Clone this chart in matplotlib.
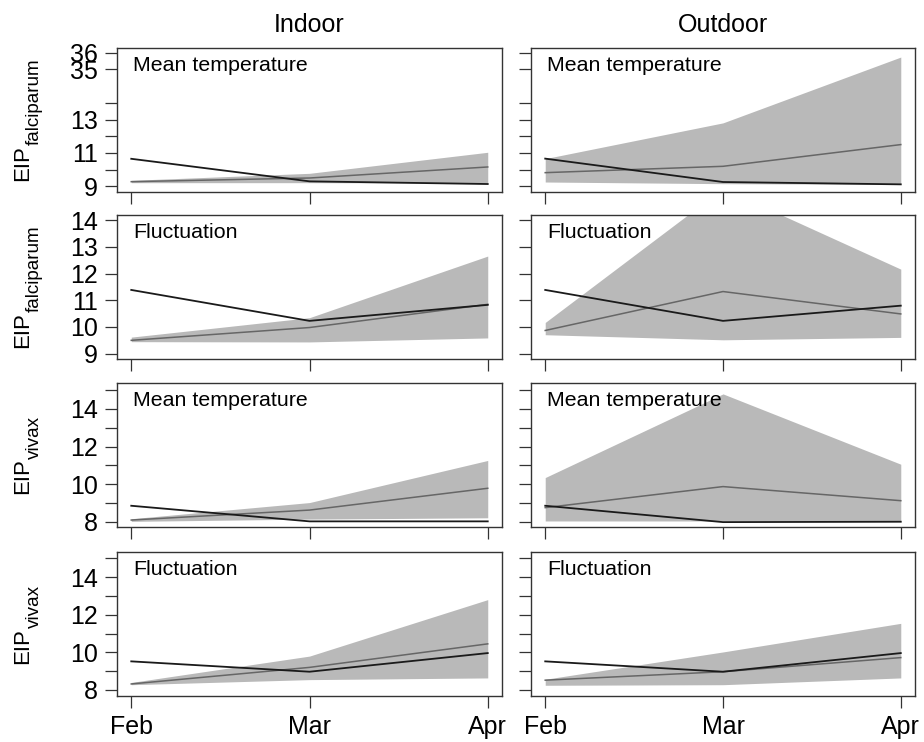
import numpy as np
import matplotlib
matplotlib.use('Agg')
import matplotlib.pyplot as plt

plt.rcParams['font.family'] = ['Liberation Sans', 'DejaVu Sans']

months = ['Feb', 'Mar', 'Apr']
columns = ['Indoor', 'Outdoor']

# P. falciparum, mean temperature
in_fal_mean_obs = [10.65, 9.30, 9.14]
in_fal_mean_mod = [9.28, 9.50, 10.16]
in_fal_mean_lo = [9.22, 9.22, 9.20]
in_fal_mean_hi = [9.36, 9.78, 11.04]
out_fal_mean_obs = [10.66, 9.26, 9.12]
out_fal_mean_mod = [9.82, 10.20, 11.50]
out_fal_mean_lo = [9.26, 9.16, 9.12]
out_fal_mean_hi = [10.66, 12.80, 35.74]

# P. falciparum, fluctuation
in_fal_fluc_obs = [11.39, 10.23, 10.83]
in_fal_fluc_mod = [9.50, 9.98, 10.85]
in_fal_fluc_lo = [9.45, 9.44, 9.59]
in_fal_fluc_hi = [9.62, 10.35, 12.66]
out_fal_fluc_obs = [11.39, 10.23, 10.80]
out_fal_fluc_mod = [9.87, 11.33, 10.49]
out_fal_fluc_lo = [9.71, 9.52, 9.61]
out_fal_fluc_hi = [10.17, 15.20, 12.17]

# P. vivax, mean temperature
in_viv_mean_obs = [8.85, 8.02, 8.02]
in_viv_mean_mod = [8.09, 8.62, 9.78]
in_viv_mean_lo = [8.02, 8.14, 8.21]
in_viv_mean_hi = [8.16, 9.02, 11.26]
out_viv_mean_obs = [8.85, 7.98, 8.00]
out_viv_mean_mod = [8.75, 9.87, 9.12]
out_viv_mean_lo = [8.04, 8.04, 8.04]
out_viv_mean_hi = [10.35, 14.80, 11.06]

# P. vivax, fluctuation
in_viv_fluc_obs = [9.52, 8.97, 9.96]
in_viv_fluc_mod = [8.32, 9.20, 10.45]
in_viv_fluc_lo = [8.28, 8.55, 8.64]
in_viv_fluc_hi = [8.40, 9.80, 12.80]
out_viv_fluc_obs = [9.52, 8.97, 9.96]
out_viv_fluc_mod = [8.52, 8.97, 9.72]
out_viv_fluc_lo = [8.25, 8.28, 8.64]
out_viv_fluc_hi = [8.57, 10.02, 11.54]

row_species = ['falciparum', 'falciparum', 'vivax', 'vivax']
panel_texts = ['Mean temperature', 'Fluctuation', 'Mean temperature', 'Fluctuation']

rows = [
    [(in_fal_mean_obs, in_fal_mean_mod, in_fal_mean_lo, in_fal_mean_hi),
     (out_fal_mean_obs, out_fal_mean_mod, out_fal_mean_lo, out_fal_mean_hi)],
    [(in_fal_fluc_obs, in_fal_fluc_mod, in_fal_fluc_lo, in_fal_fluc_hi),
     (out_fal_fluc_obs, out_fal_fluc_mod, out_fal_fluc_lo, out_fal_fluc_hi)],
    [(in_viv_mean_obs, in_viv_mean_mod, in_viv_mean_lo, in_viv_mean_hi),
     (out_viv_mean_obs, out_viv_mean_mod, out_viv_mean_lo, out_viv_mean_hi)],
    [(in_viv_fluc_obs, in_viv_fluc_mod, in_viv_fluc_lo, in_viv_fluc_hi),
     (out_viv_fluc_obs, out_viv_fluc_mod, out_viv_fluc_lo, out_viv_fluc_hi)],
]

# y axis settings per row
row_ylims = [(8.68, 36.3), (8.8, 14.2), (7.72, 15.38), (7.68, 15.33)]
row_yticks = [[9, 10, 11, 12, 13, 14, 35, 36], [9, 10, 11, 12, 13, 14],
              list(range(8, 16)), list(range(8, 16))]
row_yticklabels = [['9', '', '11', '', '13', '', '35', '36'],
                   ['9', '10', '11', '12', '13', '14'],
                   ['8', '', '10', '', '12', '', '14', ''],
                   ['8', '', '10', '', '12', '', '14', '']]


# broken axis for the first row: 14.5..34.5 squeezed into one unit
def gap_fwd(y):
    y = np.asarray(y, dtype=float)
    return np.where(y <= 14.5, y, np.where(y < 34.5, 14.5 + (y - 14.5) / 20.0, y - 19.0))


def gap_inv(d):
    d = np.asarray(d, dtype=float)
    return np.where(d <= 14.5, d, np.where(d < 15.5, 14.5 + (d - 14.5) * 20.0, d + 19.0))


W, H = 924, 742
fig = plt.figure(figsize=(W / 100, H / 100), dpi=100)

col_x = [117, 531]
col_w = [385, 384]
row_top = [47.7, 215, 383, 552]
ax_h = 144

band_col = '#b9b9b9'
x = np.arange(1, 4)

for r in range(4):
    for c in range(2):
        ax = fig.add_axes([col_x[c] / W, 1 - (row_top[r] + ax_h) / H, col_w[c] / W, ax_h / H])
        obs, mod, lo, hi = rows[r][c]
        if r == 0:
            ax.set_yscale('function', functions=(gap_fwd, gap_inv))
        ax.fill_between(x, lo, hi, color=band_col, linewidth=0, zorder=1)
        ax.plot(x, mod, color='#666666', linewidth=1.1, zorder=2)
        ax.plot(x, obs, color='#1a1a1a', linewidth=1.3, zorder=3)
        ax.set_xlim(0.92, 3.08)
        ax.set_ylim(*row_ylims[r])
        ax.set_yticks(row_yticks[r])
        ax.set_xticks(x)
        ax.minorticks_off()
        if c == 0:
            ax.set_yticklabels(row_yticklabels[r])
        else:
            ax.set_yticklabels([])
        if r == 3:
            ax.set_xticklabels(months)
        else:
            ax.set_xticklabels([])
        ax.tick_params(direction='out', length=8.6, width=0.9, labelsize=18,
                       color='#333333', pad=5)
        ax.tick_params(axis='x', pad=5)
        for sp in ax.spines.values():
            sp.set_linewidth(1.0)
            sp.set_color('#333333')
        ax.text(16 / col_w[c], 1 - 23 / ax_h, panel_texts[r], transform=ax.transAxes,
                fontsize=15.4, ha='left', va='baseline')
        if r == 0:
            ax.set_title(columns[c], fontsize=18, pad=11)

# y labels: "EIP" with a subscript species name, rotated
renderer = fig.canvas.get_renderer()
for r in range(4):
    t1 = fig.text(0, 0, 'EIP', rotation=90, rotation_mode='anchor',
                  ha='left', va='baseline', fontsize=16)
    t2 = fig.text(0, 0, row_species[r], rotation=90, rotation_mode='anchor',
                  ha='left', va='baseline', fontsize=13.6)
    h1 = t1.get_window_extent(renderer).height
    h2 = t2.get_window_extent(renderer).height
    centre = H - (row_top[r] + ax_h / 2)
    start = centre - (h1 + h2) / 2
    t1.set_position((28.5 / W, start / H))
    t2.set_position((38.5 / W, (start + h1) / H))

fig.savefig('out.png', dpi=100)
